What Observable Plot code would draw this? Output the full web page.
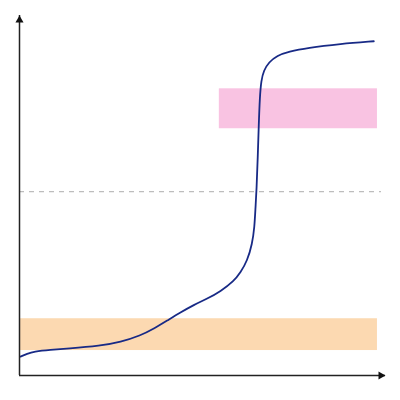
<!DOCTYPE html>
<html>
<head>
<meta charset="utf-8">
<script src="https://cdn.jsdelivr.net/npm/d3@7"></script>
<script src="https://cdn.jsdelivr.net/npm/@observablehq/plot@0.6"></script>
<style>
  html, body { margin: 0; padding: 0; background: #fff; }
</style>
</head>
<body>
<div id="chart"></div>
<script>
// Curve samples (volume, pH)
const volume = [0.14, 1.05, 1.95, 4.23, 6.52, 11.07, 13.80, 16.53, 18.35, 20.18, 21.99, 23.81, 25.64, 27.46, 29.28, 30.19, 31.11, 31.79, 32.10, 32.24, 32.38, 32.55, 32.69, 32.83, 33.02, 33.37, 34.06, 35.20, 36.79, 39.30, 43.85, 48.40];
const ph     = [0.72, 0.83, 0.91, 0.98, 1.02, 1.13, 1.27, 1.52, 1.78, 2.09, 2.40, 2.69, 2.92, 3.20, 3.59, 3.92, 4.36, 5.01, 5.64, 6.40, 7.04, 8.31, 9.58, 10.59, 11.23, 11.61, 11.92, 12.18, 12.33, 12.47, 12.62, 12.72];

// Indicator ranges
const bandNames = ["orange", "pink"];
const bandX1 = [0.1, 27.3];
const bandX2 = [48.9, 48.9];
const bandY1 = [0.95, 9.39];
const bandY2 = [2.16, 10.91];
const bandColors = ["#fcd9b1", "#f9c3e2"];

// Equivalence reference line
const neutral = 7;
const xMax = 50;
const yMax = 13.7;
const dashEnd = 49.45;

const curve = volume.map((v, i) => ({v, p: ph[i]}));
const bands = bandNames.map((n, i) => ({n, x1: bandX1[i], x2: bandX2[i], y1: bandY1[i], y2: bandY2[i], c: bandColors[i]}));

const chart = Plot.plot({
  width: 400,
  height: 400,
  marginLeft: 19,
  marginRight: 15,
  marginTop: 15,
  marginBottom: 25,
  x: {domain: [0, xMax], axis: null},
  y: {domain: [0, yMax], axis: null},
  marks: [
    Plot.rect(bands, {x1: "x1", x2: "x2", y1: "y1", y2: "y2", fill: "c"}),
    Plot.ruleY([neutral], {x1: 0, x2: dashEnd, stroke: "#bdbdbd", strokeWidth: 1.2, strokeDasharray: "5,5"}),
    Plot.line(curve, {x: "v", y: "p", stroke: "#182a86", strokeWidth: 1.8, curve: "basis"}),
    Plot.ruleX([0], {y1: 0, y2: yMax, stroke: "#222", strokeWidth: 1.5}),
    Plot.ruleY([0], {x1: 0, x2: xMax, stroke: "#222", strokeWidth: 1.5}),
    Plot.dot([{x: 0, y: yMax}], {x: "x", y: "y", symbol: "triangle", r: 3, fill: "#111", stroke: null, dy: 4.67}),
    Plot.dot([{x: xMax, y: 0}], {x: "x", y: "y", symbol: "triangle", r: 3, fill: "#111", stroke: null, rotate: 90, dx: -4.67})
  ]
});
document.getElementById("chart").appendChild(chart);
</script>
</body>
</html>
